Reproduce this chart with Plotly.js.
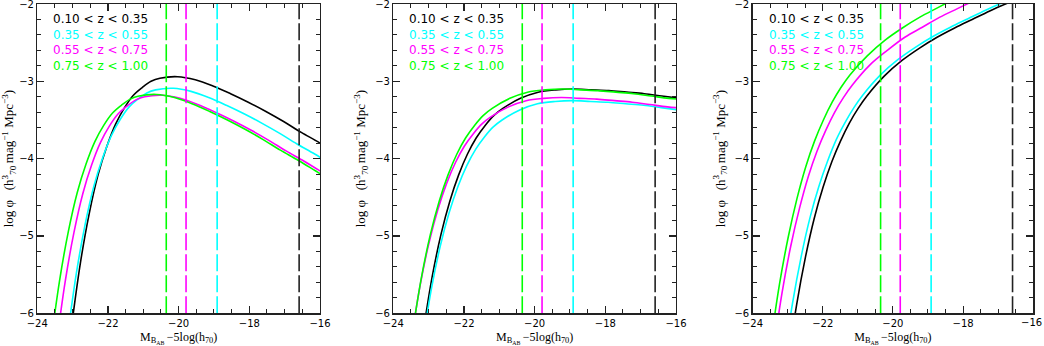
<!DOCTYPE html>
<html>
<head>
<meta charset="utf-8">
<script src="https://cdn.plot.ly/plotly-3.0.1.min.js"></script>
<style>html,body{margin:0;padding:0;background:#fff;overflow:hidden;}</style>
</head>
<body>
<div id="lf" style="width:1044px;height:346px;"></div>
<script>
// redshift bins and their colours
var zBins = ["0.10 < z < 0.35", "0.35 < z < 0.55", "0.55 < z < 0.75", "0.75 < z < 1.00"];
var binColors = ["#000000", "#00ffff", "#ff00ff", "#00ff00"];
// completeness limits (dashed verticals), same bin order
var limitMags = [-16.59, -18.91, -19.79, -20.35];
var limitColors = ["#222222", "#00ffff", "#ff00ff", "#00ff00"];
// x tick labels
var magTicks = [-24, -22, -20, -18, -16];

// ------------------------
// panel 1
var p1M_black = [-23.03,-22.78,-22.53,-22.28,-22.03,-21.78,-21.53,-21.28,-21.03,-20.78,-20.53,-20.03,-19.53,-19.03,-18.53,-18.03,-17.53,-17.03,-16.53,-16.03,-15.53];
var p1Phi_black = [-6.17,-5.35,-4.71,-4.21,-3.84,-3.55,-3.34,-3.18,-3.08,-3.00,-2.96,-2.94,-2.98,-3.06,-3.16,-3.27,-3.39,-3.52,-3.66,-3.79,-3.93];
var p1M_cyan = [-23.15,-22.90,-22.65,-22.40,-22.15,-21.90,-21.65,-21.40,-21.15,-20.90,-20.65,-20.15,-19.65,-19.15,-18.65,-18.15,-17.65,-17.15,-16.65,-16.15,-15.65];
var p1Phi_cyan = [-6.32,-5.50,-4.86,-4.36,-3.99,-3.70,-3.49,-3.33,-3.23,-3.15,-3.11,-3.09,-3.13,-3.21,-3.31,-3.42,-3.54,-3.67,-3.81,-3.94,-4.08];
var p1M_magenta = [-23.46,-23.21,-22.96,-22.71,-22.46,-22.21,-21.96,-21.71,-21.46,-21.21,-20.96,-20.46,-19.96,-19.46,-18.96,-18.46,-17.96,-17.46,-16.96,-16.46,-15.96];
var p1Phi_magenta = [-6.41,-5.59,-4.95,-4.45,-4.08,-3.79,-3.58,-3.42,-3.32,-3.24,-3.20,-3.18,-3.22,-3.30,-3.40,-3.51,-3.63,-3.76,-3.90,-4.03,-4.17];
var p1M_green = [-23.62,-23.37,-23.12,-22.87,-22.62,-22.37,-22.12,-21.87,-21.62,-21.37,-21.12,-20.62,-20.12,-19.62,-19.12,-18.62,-18.12,-17.62,-17.12,-16.62,-16.12,-15.62];
var p1Phi_green = [-6.40,-5.58,-4.94,-4.44,-4.07,-3.78,-3.57,-3.41,-3.31,-3.23,-3.19,-3.17,-3.21,-3.29,-3.39,-3.50,-3.62,-3.75,-3.89,-4.02,-4.16,-4.30];

// panel 2
var p2M_black = [-23.15,-22.90,-22.65,-22.40,-22.15,-21.90,-21.65,-21.40,-21.15,-20.90,-20.40,-19.90,-19.40,-18.90,-18.40,-17.90,-17.40,-16.90,-16.40,-15.90];
var p2Phi_black = [-6.23,-5.53,-4.98,-4.55,-4.21,-3.94,-3.73,-3.57,-3.44,-3.35,-3.22,-3.14,-3.11,-3.10,-3.11,-3.12,-3.14,-3.16,-3.19,-3.22];
var p2M_cyan = [-23.17,-22.92,-22.67,-22.42,-22.17,-21.92,-21.67,-21.42,-21.17,-20.92,-20.42,-19.92,-19.42,-18.92,-18.42,-17.92,-17.42,-16.92,-16.42,-15.92];
var p2Phi_cyan = [-6.38,-5.68,-5.13,-4.70,-4.36,-4.09,-3.88,-3.72,-3.59,-3.50,-3.37,-3.29,-3.26,-3.25,-3.26,-3.27,-3.29,-3.31,-3.34,-3.37];
var p2M_magenta = [-23.49,-23.24,-22.99,-22.74,-22.49,-22.24,-21.99,-21.74,-21.49,-21.24,-20.74,-20.24,-19.74,-19.24,-18.74,-18.24,-17.74,-17.24,-16.74,-16.24,-15.74];
var p2Phi_magenta = [-6.34,-5.64,-5.09,-4.66,-4.32,-4.05,-3.84,-3.68,-3.55,-3.46,-3.33,-3.25,-3.22,-3.21,-3.22,-3.23,-3.25,-3.27,-3.30,-3.33,-3.35];
var p2M_green = [-23.45,-23.20,-22.95,-22.70,-22.45,-22.20,-21.95,-21.70,-21.45,-21.20,-20.70,-20.20,-19.70,-19.20,-18.70,-18.20,-17.70,-17.20,-16.70,-16.20,-15.70];
var p2Phi_green = [-6.23,-5.53,-4.98,-4.55,-4.21,-3.94,-3.73,-3.57,-3.44,-3.35,-3.22,-3.14,-3.11,-3.10,-3.11,-3.12,-3.14,-3.16,-3.19,-3.22,-3.24];

// panel 3
var p3M_black = [-22.99,-22.74,-22.49,-22.24,-21.99,-21.74,-21.49,-21.24,-20.99,-20.74,-20.24,-19.74,-19.24,-18.74,-18.24,-17.74,-17.24,-16.74,-16.24];
var p3Phi_black = [-6.64,-5.88,-5.27,-4.77,-4.37,-4.04,-3.77,-3.54,-3.35,-3.19,-2.93,-2.73,-2.57,-2.43,-2.31,-2.20,-2.09,-1.99,-1.89];
var p3M_cyan = [-23.11,-22.86,-22.61,-22.36,-22.11,-21.86,-21.61,-21.36,-21.11,-20.86,-20.36,-19.86,-19.36,-18.86,-18.36,-17.86,-17.36,-16.86,-16.36];
var p3Phi_cyan = [-6.63,-5.87,-5.26,-4.76,-4.36,-4.03,-3.75,-3.53,-3.34,-3.18,-2.92,-2.72,-2.56,-2.42,-2.30,-2.19,-2.08,-1.98,-1.88];
var p3M_magenta = [-23.41,-23.16,-22.91,-22.66,-22.41,-22.16,-21.91,-21.66,-21.41,-21.16,-20.66,-20.16,-19.66,-19.16,-18.66,-18.16,-17.66];
var p3Phi_magenta = [-6.50,-5.74,-5.13,-4.64,-4.23,-3.90,-3.63,-3.40,-3.21,-3.05,-2.79,-2.60,-2.43,-2.30,-2.17,-2.06,-1.95];
var p3M_green = [-23.48,-23.23,-22.98,-22.73,-22.48,-22.23,-21.98,-21.73,-21.48,-21.23,-20.73,-20.23,-19.73,-19.23,-18.73,-18.23];
var p3Phi_green = [-6.38,-5.62,-5.01,-4.51,-4.10,-3.77,-3.50,-3.27,-3.08,-2.92,-2.67,-2.47,-2.31,-2.17,-2.05,-1.93];

// ------------------------
var panels = [
  {xa: "x",  ya: "y",  M: [p1M_black, p1M_cyan, p1M_magenta, p1M_green], Phi: [p1Phi_black, p1Phi_cyan, p1Phi_magenta, p1Phi_green]},
  {xa: "x2", ya: "y2", M: [p2M_black, p2M_cyan, p2M_magenta, p2M_green], Phi: [p2Phi_black, p2Phi_cyan, p2Phi_magenta, p2Phi_green]},
  {xa: "x3", ya: "y3", M: [p3M_black, p3M_cyan, p3M_magenta, p3M_green], Phi: [p3Phi_black, p3Phi_cyan, p3Phi_magenta, p3Phi_green]}
];

var data = [];
var annotations = [];
panels.forEach(function(p) {
  // curves, black first so green ends up on top
  for (var i = 0; i < 4; i++) {
    data.push({
      x: p.M[i], y: p.Phi[i], xaxis: p.xa, yaxis: p.ya,
      type: "scatter", mode: "lines",
      line: {color: binColors[i], width: 1.6, shape: "spline"},
      hoverinfo: "skip"
    });
  }
  // dashed limits
  for (var j = 0; j < 4; j++) {
    data.push({
      x: [limitMags[j], limitMags[j]], y: [-6, -2], xaxis: p.xa, yaxis: p.ya,
      type: "scatter", mode: "lines",
      line: {color: limitColors[j], width: 1.6, dash: "17px,4px"},
      hoverinfo: "skip"
    });
  }
  // coloured text key
  for (var k = 0; k < 4; k++) {
    annotations.push({
      xref: p.xa, yref: p.ya, x: -23.6, y: -2.2 - 0.2 * k,
      xanchor: "left", yanchor: "middle", showarrow: false,
      text: zBins[k],
      font: {family: "DejaVu Sans", size: 12, color: binColors[k]}
    });
  }
});

var tickFont = {family: "DejaVu Sans", size: 10, color: "#000"};
var titleFont = {family: "Liberation Serif", size: 12, color: "#000"};

// the last label of the right panel sits on the page edge and plotly drops it,
// so it is written as paper text flush with the right edge
var lastTick = magTicks[magTicks.length - 1];
annotations.push({
  xref: "paper", yref: "paper", x: 1, y: 0.067,
  xanchor: "right", yanchor: "middle", showarrow: false,
  text: "\u2212" + Math.abs(lastTick), font: tickFont
});

function xAxis(dom, anchor, vals) {
  return {
    domain: dom, anchor: anchor, range: [-24, -16],
    tickmode: "array", tickvals: vals,
    ticktext: vals.map(function(v) { return "\u2212" + Math.abs(v); }),
    showline: true, linecolor: "#222", linewidth: 1.3, mirror: "ticks",
    ticks: "inside", ticklen: 7, tickwidth: 1.1, tickcolor: "#222",
    minor: {dtick: 0.5, tick0: -24, ticks: "inside", ticklen: 4, tickwidth: 1, tickcolor: "#222"},
    showgrid: false, zeroline: false, tickfont: tickFont, ticklabeloverflow: "allow",
    title: {text: "M<sub>B<sub>AB</sub></sub>\u2009\u22125log(h<sub>70</sub>)", font: titleFont, standoff: 5}
  };
}
function yAxis(anchor) {
  return {
    domain: [0.0945, 0.9884], anchor: anchor, range: [-6, -2], tick0: -6, dtick: 1,
    showline: true, linecolor: "#222", linewidth: 1.3, mirror: "ticks",
    ticks: "inside", ticklen: 7, tickwidth: 1.1, tickcolor: "#222",
    minor: {dtick: 0.2, ticks: "inside", ticklen: 4, tickwidth: 1, tickcolor: "#222"},
    showgrid: false, zeroline: false, tickfont: tickFont, ticklabeloverflow: "allow",
    title: {text: "log \u03c6\u00a0\u00a0\u00a0(h<sup>3</sup><sub>70</sub>\u2009mag<sup>\u22121</sup>\u00a0Mpc<sup>\u22123</sup>)", font: {family: "Liberation Serif", size: 13, color: "#000"}, standoff: 6}
  };
}

var layout = {
  width: 1044, height: 346,
  margin: {l: 0, r: 0, t: 0, b: 0},
  paper_bgcolor: "#fff", plot_bgcolor: "#fff",
  showlegend: false,
  xaxis: xAxis([0.0357, 0.3065], "y", magTicks),
  yaxis: yAxis("x"),
  xaxis2: xAxis([0.3767, 0.6475], "y2", magTicks),
  yaxis2: yAxis("x2"),
  xaxis3: xAxis([0.7208, 0.9897], "y3", magTicks.slice(0, -1)),
  yaxis3: yAxis("x3"),
  annotations: annotations
};

Plotly.newPlot("lf", data, layout, {displayModeBar: false, staticPlot: true});
</script>
</body>
</html>
